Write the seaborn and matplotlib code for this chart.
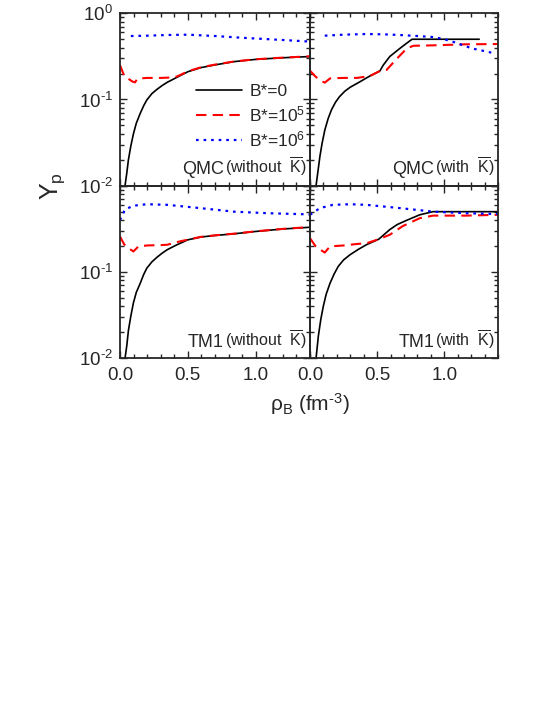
import numpy as np
import pandas as pd
import matplotlib
matplotlib.use("Agg")
import matplotlib.pyplot as plt
import seaborn as sns
from matplotlib.ticker import MultipleLocator, LogLocator, FixedLocator, NullFormatter

# ---- QMC without K-bar ----
qmc_wo_rho_b0 = [0.037, 0.05, 0.062, 0.08, 0.099, 0.12, 0.149, 0.175, 0.198, 0.235, 0.272, 0.31, 0.347, 0.42, 0.5, 0.594, 0.7, 0.84, 1.0, 1.2, 1.4]
qmc_wo_yp_b0 = [0.010, 0.014, 0.020, 0.029, 0.040, 0.053, 0.069, 0.085, 0.099, 0.117, 0.131, 0.145, 0.158, 0.181, 0.21, 0.234, 0.252, 0.275, 0.292, 0.305, 0.315]
qmc_wo_rho_b5 = [0.0, 0.03, 0.06, 0.09, 0.11, 0.13, 0.2, 0.3, 0.38, 0.42, 0.5, 0.594, 0.7, 0.84, 1.0, 1.2, 1.4]
qmc_wo_yp_b5 = [0.25, 0.19, 0.175, 0.162, 0.158, 0.175, 0.178, 0.178, 0.18, 0.185, 0.212, 0.236, 0.254, 0.276, 0.293, 0.306, 0.317]
qmc_wo_rho_b6 = [0.08, 0.2, 0.35, 0.5, 0.7, 0.9, 1.1, 1.25, 1.4]
qmc_wo_yp_b6 = [0.545, 0.55, 0.56, 0.565, 0.545, 0.52, 0.50, 0.485, 0.47]

# ---- QMC with K-bar ----
qmc_w_rho_b0 = [0.045, 0.06, 0.074, 0.09, 0.11, 0.135, 0.16, 0.19, 0.22, 0.26, 0.30, 0.37, 0.445, 0.52, 0.545, 0.594, 0.668, 0.72, 0.76, 1.26]
qmc_w_yp_b0 = [0.010, 0.015, 0.022, 0.031, 0.044, 0.060, 0.076, 0.093, 0.108, 0.125, 0.139, 0.16, 0.187, 0.214, 0.25, 0.315, 0.39, 0.45, 0.50, 0.50]
qmc_w_rho_b5 = [0.0, 0.04, 0.08, 0.11, 0.15, 0.25, 0.35, 0.445, 0.52, 0.57, 0.64, 0.72, 0.77, 0.92, 1.16, 1.4]
qmc_w_yp_b5 = [0.216, 0.185, 0.165, 0.157, 0.176, 0.178, 0.178, 0.187, 0.214, 0.22, 0.29, 0.39, 0.42, 0.425, 0.437, 0.44]
qmc_w_rho_b6 = [0.11, 0.25, 0.42, 0.55, 0.67, 0.8, 0.92, 1.0, 1.06, 1.15, 1.21, 1.28, 1.35]
qmc_w_yp_b6 = [0.55, 0.565, 0.575, 0.57, 0.56, 0.545, 0.53, 0.50, 0.47, 0.42, 0.39, 0.37, 0.35]

# ---- TM1 without K-bar ----
tm1_wo_rho_b0 = [0.037, 0.05, 0.062, 0.08, 0.099, 0.12, 0.149, 0.175, 0.198, 0.235, 0.272, 0.31, 0.347, 0.42, 0.5, 0.594, 0.7, 0.84, 1.0, 1.2, 1.4]
tm1_wo_yp_b0 = [0.010, 0.014, 0.021, 0.031, 0.044, 0.058, 0.074, 0.094, 0.111, 0.131, 0.148, 0.165, 0.181, 0.207, 0.236, 0.254, 0.265, 0.277, 0.295, 0.315, 0.33]
tm1_wo_rho_b5 = [0.0, 0.03, 0.06, 0.099, 0.136, 0.2, 0.3, 0.35, 0.4, 0.45, 0.5, 0.594, 0.7, 0.84, 1.0, 1.2, 1.4]
tm1_wo_yp_b5 = [0.258, 0.21, 0.19, 0.173, 0.198, 0.203, 0.205, 0.207, 0.218, 0.228, 0.237, 0.255, 0.266, 0.278, 0.296, 0.316, 0.332]
tm1_wo_rho_b6 = [0.0, 0.037, 0.099, 0.198, 0.35, 0.59, 0.84, 1.09, 1.4]
tm1_wo_yp_b6 = [0.40, 0.53, 0.586, 0.61, 0.60, 0.55, 0.50, 0.48, 0.465]

# ---- TM1 with K-bar ----
tm1_w_rho_b0 = [0.045, 0.062, 0.08, 0.099, 0.12, 0.149, 0.18, 0.21, 0.25, 0.297, 0.36, 0.42, 0.512, 0.55, 0.594, 0.65, 0.718, 0.817, 0.916, 1.4]
tm1_w_yp_b0 = [0.010, 0.018, 0.028, 0.040, 0.055, 0.074, 0.095, 0.116, 0.138, 0.158, 0.183, 0.207, 0.24, 0.27, 0.31, 0.355, 0.396, 0.46, 0.50, 0.50]
tm1_w_rho_b5 = [0.0, 0.04, 0.08, 0.11, 0.149, 0.25, 0.36, 0.42, 0.512, 0.594, 0.69, 0.817, 0.916, 1.16, 1.4]
tm1_w_yp_b5 = [0.247, 0.2, 0.18, 0.168, 0.198, 0.203, 0.212, 0.215, 0.24, 0.27, 0.34, 0.42, 0.45, 0.45, 0.46]
tm1_w_rho_b6 = [0.0, 0.074, 0.17, 0.30, 0.42, 0.67, 0.92, 1.16, 1.4]
tm1_w_yp_b6 = [0.46, 0.55, 0.60, 0.61, 0.60, 0.55, 0.50, 0.48, 0.47]

series_labels = ['B*=0', r'B*=10$^{5}$', r'B*=10$^{6}$']
ytick_labels = [r'10$^{\text{-}2}$', r'10$^{\text{-}1}$', r'10$^{0}$']
xtick_labels = ['0.0', '0.5', '1.0']
panel_models = ['QMC', 'QMC', 'TM1', 'TM1']
panel_notes = [r'(without  $\overline{\mathrm{K}}$)', r'(with  $\overline{\mathrm{K}}$)',
               r'(without  $\overline{\mathrm{K}}$)', r'(with  $\overline{\mathrm{K}}$)']

panels = [
    [(qmc_wo_rho_b0, qmc_wo_yp_b0), (qmc_wo_rho_b5, qmc_wo_yp_b5), (qmc_wo_rho_b6, qmc_wo_yp_b6)],
    [(qmc_w_rho_b0, qmc_w_yp_b0), (qmc_w_rho_b5, qmc_w_yp_b5), (qmc_w_rho_b6, qmc_w_yp_b6)],
    [(tm1_wo_rho_b0, tm1_wo_yp_b0), (tm1_wo_rho_b5, tm1_wo_yp_b5), (tm1_wo_rho_b6, tm1_wo_yp_b6)],
    [(tm1_w_rho_b0, tm1_w_yp_b0), (tm1_w_rho_b5, tm1_w_yp_b5), (tm1_w_rho_b6, tm1_w_yp_b6)],
]

sns.set_style('ticks')
plt.rcParams['font.family'] = ['Liberation Sans', 'DejaVu Sans']
plt.rcParams['mathtext.fontset'] = 'custom'
plt.rcParams['mathtext.rm'] = 'Liberation Sans'
plt.rcParams['mathtext.it'] = 'Liberation Sans:italic'
plt.rcParams['axes.unicode_minus'] = False

colors = ['black', '#ff0000', '#0000ff']
styles = ['-', (0, (5, 3)), (0, (1.2, 2.2))]
widths = [1.2, 1.5, 1.6]

fig = plt.figure(figsize=(5.45, 7.05), dpi=100)
L, M, R = 120 / 545, 310 / 545, 498 / 545
T, C, B = 1 - 13.3 / 705, 1 - 185.7 / 705, 1 - 358.3 / 705
boxes = [(L, C, M - L, T - C), (M, C, R - M, T - C), (L, B, M - L, C - B), (M, B, R - M, C - B)]

for i, (box, data) in enumerate(zip(boxes, panels)):
    ax = fig.add_axes(box)
    ax.patch.set_alpha(0)
    for j, (rho, yp) in enumerate(data):
        df = pd.DataFrame({'rho': rho, 'Yp': yp})
        sns.lineplot(data=df, x='rho', y='Yp', ax=ax, color=colors[j], linestyle=styles[j],
                     linewidth=widths[j], label=series_labels[j] if i == 0 else None, legend=False)
    ax.set_yscale('log')
    ax.set_xlim(0, 1.4)
    ax.set_ylim(1e-2, 1)
    ax.set_xlabel('')
    ax.set_ylabel('')
    for s in ax.spines.values():
        s.set_linewidth(1.3)
    ax.xaxis.set_major_locator(FixedLocator([0.0, 0.5, 1.0]))
    ax.xaxis.set_minor_locator(MultipleLocator(0.1))
    ax.set_yticks([1e-2, 1e-1, 1e0])
    ax.yaxis.set_minor_locator(LogLocator(base=10, subs=np.arange(2, 10), numticks=20))
    ax.yaxis.set_minor_formatter(NullFormatter())
    ax.tick_params(which='both', direction='in', top=True, right=True, width=1.0, labelsize=13.5)
    ax.tick_params(which='major', length=5)
    ax.tick_params(which='minor', length=3)
    ax.tick_params(axis='x', pad=6)
    ax.tick_params(axis='y', pad=5)
    if i == 0:
        ax.set_yticklabels(ytick_labels)
    elif i == 2:
        ax.set_yticklabels(ytick_labels[:2] + [''])
    else:
        ax.set_yticklabels([])
    if i in (2, 3):
        ax.set_xticklabels(xtick_labels)
    else:
        ax.set_xticklabels([])

    note = ax.text(0.985, 0.045, panel_notes[i], transform=ax.transAxes, ha='right', va='bottom', fontsize=11.5)
    ax.annotate(panel_models[i], xy=(0, 0), xycoords=note, xytext=(-1, 0), textcoords='offset points',
                ha='right', va='bottom', fontsize=13)

    if i == 0:
        ax.legend(loc='upper left', bbox_to_anchor=(0.32, 0.68), frameon=False, fontsize=12.5,
                  handlelength=2.6, handletextpad=0.45, labelspacing=0.3)

fig.text(0.097, C, r'Y$_\mathrm{p}$', rotation=90, ha='center', va='center', fontsize=18)
fig.text(M, 1 - 404 / 705, r'ρ$_\mathrm{B}$ (fm$^{\text{-}3}$)', ha='center', va='center', fontsize=15)

fig.savefig('out.png', dpi=100)
